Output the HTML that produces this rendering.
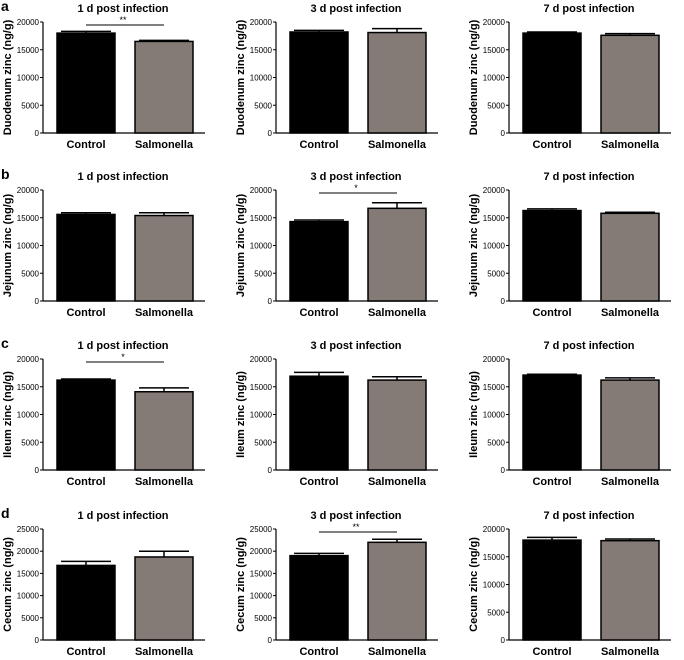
<!DOCTYPE html>
<html><head><meta charset="utf-8"><style>
body{margin:0;background:#fff;}
svg{display:block;font-family:"Liberation Sans",Arial,sans-serif;}
</style></head><body>
<svg id="chart" width="684" height="660" viewBox="0 0 684 660"></svg>
<script>
const rowLetters=["a","b","c","d"];
const tissues=["Duodenum","Jejunum","Ileum","Cecum"];
const days=["1 d","3 d","7 d"];
const categories=["Control","Salmonella"];
const controlMeans=[[18000,18200,18000],[15600,14300,16300],[16200,16900,17100],[16800,19000,18000]];
const controlErr=[[300,300,200],[300,300,300],[200,700,150],[900,500,500]];
const salmMeans=[[16500,18100,17600],[15400,16700,15800],[14100,16200,16200],[18700,22000,17900]];
const salmErr=[[200,700,300],[500,1000,200],[700,600,400],[1300,700,300]];
const yMax=[[20000,20000,20000],[20000,20000,20000],[20000,20000,20000],[25000,25000,20000]];
const sig=[["**","",""],["","*",""],["*","",""],["","**",""]];

const NS="http://www.w3.org/2000/svg";
const svg=document.getElementById("chart");
function mk(tag,attrs,parent){const e=document.createElementNS(NS,tag);for(const k in attrs)e.setAttribute(k,attrs[k]);(parent||svg).appendChild(e);return e;}
const colX=[43,276,509], rowZero=[133,301,470,640], H=111;
for(let r=0;r<4;r++){for(let c=0;c<3;c++){
 const g=mk("g",{});
 
 
 const x0=colX[c], y0=rowZero[r], max=yMax[r][c];
 const ys=v=>y0-v/max*H;
 const bx=[x0+14,x0+92], bw=58;
 // title
 const t=mk("text",{x:x0+80,y:y0-H-10,"text-anchor":"middle","font-size":"11","font-weight":"bold"},g);
 t.textContent=days[c]+" post infection";
 
 
 if(c===0){const L=mk("text",{x:1,y:y0-H-11,"font-size":"14","font-weight":"bold"},g);L.textContent=rowLetters[r];
  }
 // y label
 const yl=mk("text",{x:0,y:0,"text-anchor":"middle","font-size":"11","font-weight":"bold",transform:`translate(${x0-32},${y0-H/2}) rotate(-90)`},g);
 yl.textContent=tissues[r]+" zinc (ng/g)";
 
 
 // axes
 mk("line",{x1:x0,y1:ys(max),x2:x0,y2:y0,stroke:"#000","stroke-width":1.2},g);
 mk("line",{x1:x0,y1:y0,x2:x0+162,y2:y0,stroke:"#000","stroke-width":1.2},g);
 for(let v=0;v<=max;v+=5000){
  mk("line",{x1:x0-3,y1:ys(v),x2:x0,y2:ys(v),stroke:"#000"},g);
  const tl=mk("text",{x:x0-4,y:ys(v)+3,"text-anchor":"end","font-size":"8"},g);tl.textContent=v;
  
 }
 const means=[controlMeans[r][c],salmMeans[r][c]], errs=[controlErr[r][c],salmErr[r][c]];
 const fills=["#000","#857b76"];
 for(let i=0;i<2;i++){
  const cx=bx[i]+bw/2;
  mk("line",{x1:cx,y1:ys(means[i]),x2:cx,y2:ys(means[i]+errs[i]),stroke:"#000","stroke-width":1.5},g);
  mk("line",{x1:cx-bw/2+4,y1:ys(means[i]+errs[i]),x2:cx+bw/2-4,y2:ys(means[i]+errs[i]),stroke:"#000","stroke-width":1.5},g);
  const b=mk("rect",{x:bx[i],y:ys(means[i]),width:bw,height:y0-ys(means[i]),fill:fills[i],stroke:"#000","stroke-width":1.5},g);
  
  
  const xl=mk("text",{x:cx,y:y0+15,"text-anchor":"middle","font-size":"11","font-weight":"bold"},g);xl.textContent=categories[i];
  
 }
 if(sig[r][c]){
  const ly=ys(max)+3;
  mk("line",{x1:bx[0]+bw/2,y1:ly,x2:bx[1]+bw/2,y2:ly,stroke:"#000"},g);
  const s=mk("text",{x:x0+80,y:ly-2,"text-anchor":"middle","font-size":"9"},g);s.textContent=sig[r][c];
  
 }
}}
</script>
</body></html>
